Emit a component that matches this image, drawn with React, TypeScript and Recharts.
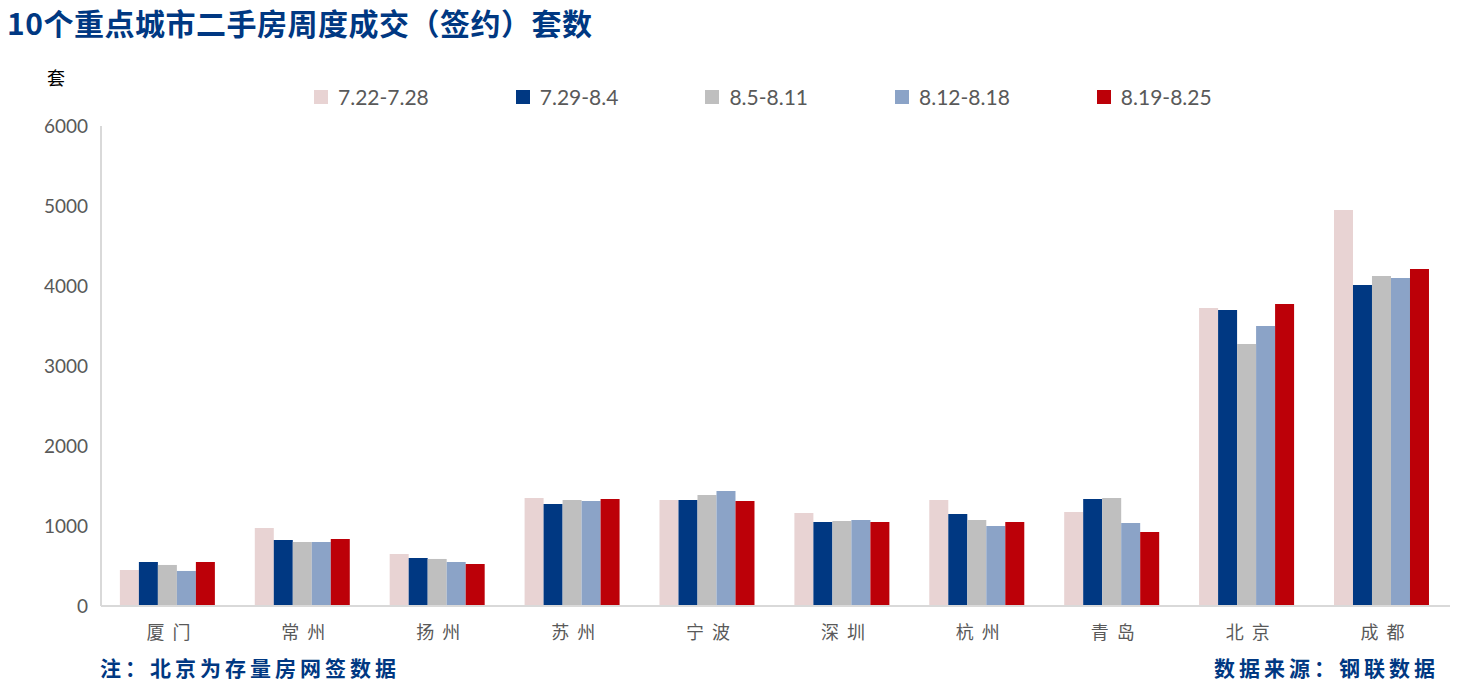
import { BarChart, Bar, XAxis, YAxis } from 'recharts';

const cities = ['厦门', '常州', '扬州', '苏州', '宁波', '深圳', '杭州', '青岛', '北京', '成都'];

const week1 = [450, 975, 650, 1350, 1325, 1163, 1325, 1175, 3725, 4950];
const week2 = [550, 825, 600, 1275, 1325, 1050, 1150, 1338, 3700, 4013];
const week3 = [513, 800, 588, 1325, 1388, 1063, 1075, 1350, 3275, 4125];
const week4 = [438, 800, 550, 1313, 1438, 1075, 1000, 1038, 3500, 4100];
const week5 = [550, 838, 525, 1338, 1313, 1050, 1050, 925, 3775, 4213];

const yTicks = [0, 1000, 2000, 3000, 4000, 5000, 6000];

const series = [
  { key: 'w1', name: '7.22-7.28', color: '#E8D3D3', values: week1 },
  { key: 'w2', name: '7.29-8.4', color: '#003882', values: week2 },
  { key: 'w3', name: '8.5-8.11', color: '#BFBFBF', values: week3 },
  { key: 'w4', name: '8.12-8.18', color: '#8BA3C7', values: week4 },
  { key: 'w5', name: '8.19-8.25', color: '#BC0008', values: week5 },
];

const data = cities.map((city, i) => {
  const row: { [key: string]: string | number } = { city };
  series.forEach(s => {
    row[s.key] = s.values[i];
  });
  return row;
});

const textGray = '#595959';
const axisGray = '#D9D9D9';
const titleBlue = '#003882';
const cjk = "'Noto Sans CJK SC', sans-serif";

const CityTick = ({ x, y, payload }: any) => (
  <text
    x={x + 4}
    y={y}
    dy="0.71em"
    textAnchor="middle"
    fill={textGray}
    fontSize={18}
    fontFamily={cjk}
    letterSpacing={8}
  >
    {payload.value}
  </text>
);

// legend sits above the plot, outside the chart so it doesn't shrink the plot area
const TopLegend = () => (
  <div
    style={{
      position: 'absolute',
      left: 314,
      top: 84,
      display: 'flex',
      gap: 87,
      alignItems: 'center',
    }}
  >
    {series.map(s => (
      <div key={s.key} style={{ display: 'flex', alignItems: 'center' }}>
        <span style={{ width: 14, height: 14, background: s.color, display: 'inline-block', marginRight: 10 }} />
        <span style={{ fontFamily: 'Lato, sans-serif', fontSize: 21, color: textGray }}>{s.name}</span>
      </div>
    ))}
  </div>
);

export default function App() {
  return (
    <div style={{ position: 'absolute', left: 0, top: 0, width: 1466, height: 680, background: '#fff' }}>
      <div
        style={{
          position: 'absolute',
          left: 7,
          top: 0,
          fontFamily: cjk,
          fontWeight: 700,
          fontSize: 30,
          letterSpacing: 0.5,
          color: titleBlue,
          whiteSpace: 'nowrap',
        }}
      >
        10个重点城市二手房周度成交（签约）套数
      </div>
      <div
        style={{
          position: 'absolute',
          left: 47,
          top: 64,
          fontFamily: cjk,
          fontSize: 18,
          color: '#000',
        }}
      >
        套
      </div>
      <TopLegend />
      <BarChart
        width={1466}
        height={680}
        data={data}
        margin={{ top: 126, right: 16, bottom: 44, left: 0 }}
        barCategoryGap="14%"
        barGap={0}
      >
        <XAxis
          dataKey="city"
          height={30}
          axisLine={{ stroke: axisGray, strokeWidth: 2 }}
          tickLine={false}
          tickSize={0}
          tickMargin={20}
          tick={<CityTick />}
          interval={0}
        />
        <YAxis
          width={101}
          domain={[0, 6000]}
          ticks={yTicks}
          axisLine={{ stroke: axisGray, strokeWidth: 2 }}
          tickLine={false}
          tickSize={0}
          tickMargin={13}
          tick={{ fill: textGray, fontSize: 19, fontFamily: 'Lato, sans-serif' }}
        />
        {series.map(s => (
          <Bar key={s.key} dataKey={s.key} name={s.name} fill={s.color} isAnimationActive={false} />
        ))}
      </BarChart>
      <div
        style={{
          position: 'absolute',
          left: 100,
          top: 652,
          fontFamily: cjk,
          fontWeight: 700,
          fontSize: 21,
          color: titleBlue,
          letterSpacing: 4,
          whiteSpace: 'nowrap',
        }}
      >
        注：北京为存量房网签数据
      </div>
      <div
        style={{
          position: 'absolute',
          right: 27,
          top: 652,
          fontFamily: cjk,
          fontWeight: 700,
          fontSize: 21,
          color: titleBlue,
          letterSpacing: 4,
          whiteSpace: 'nowrap',
        }}
      >
        数据来源：钢联数据
      </div>
    </div>
  );
}
